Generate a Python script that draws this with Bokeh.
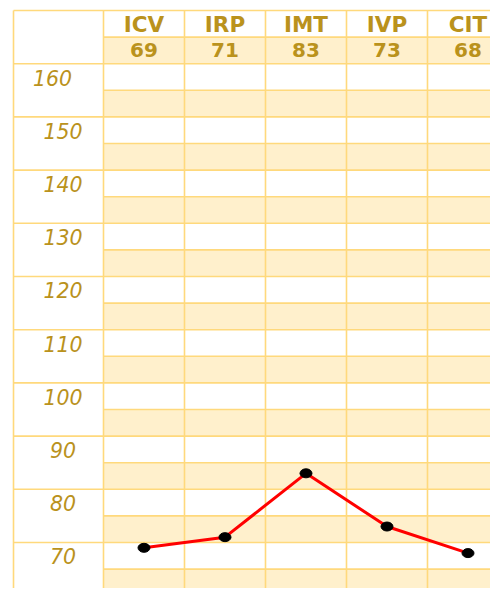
from bokeh.plotting import figure
from bokeh.models import Range1d, ColumnDataSource
from bokeh.core.properties import value
from bokeh.embed import file_html
from bokeh.resources import INLINE

categories = ["ICV", "IRP", "IMT", "IVP", "CIT"]
values = [69, 71, 83, 73, 68]
tick_labels = [160, 150, 140, 130, 120, 110, 100, 90, 80, 70]

GOLD_TEXT = "#BA921C"
GRID = "#FFD97C"
BEIGE = "#FFF0CC"

n = len(categories)
xs = list(range(n))

# layout constants (column units / value units)
left_edge = -1.611
col_left = -0.5
col_right = n - 0.5 + 0.2
y_min, y_max = 61.35, 171.88
head_top = 170
head_mid = 165
body_top = 160
body_bottom = 60

p = figure(width=490, height=588, output_backend="svg", toolbar_location=None,
           x_range=Range1d(-1.7716, 4.2778), y_range=Range1d(y_min, y_max),
           min_border=0, background_fill_color="white", border_fill_color="white")
p.axis.visible = False
p.xgrid.visible = False
p.ygrid.visible = False
p.outline_line_color = None

# beige bands (lower half of every 10-unit band) + header value row
band_tops = [t - 5 for t in tick_labels]
p.quad(left=col_left, right=col_right, top=band_tops, bottom=[t - 10 for t in tick_labels],
       fill_color=BEIGE, line_color=None)
p.quad(left=col_left, right=col_right, top=head_mid, bottom=body_top,
       fill_color=BEIGE, line_color=None)

# horizontal lines
full_lines = [t for t in tick_labels] + [body_bottom, head_top]
p.segment(x0=left_edge, x1=col_right, y0=full_lines, y1=full_lines, line_color=GRID, line_width=1.6)
half_lines = [t - 5 for t in tick_labels] + [head_mid]
p.segment(x0=col_left, x1=col_right, y0=half_lines, y1=half_lines, line_color=GRID, line_width=1.6)

# vertical lines
vx = [left_edge] + [i - 0.5 for i in range(n)]
p.segment(x0=vx, x1=vx, y0=y_min - 1, y1=head_top, line_color=GRID, line_width=1.6)

# header texts
p.text(x=xs, y=[167.4] * n, text=categories, text_align="center", text_baseline="middle",
       text_font=value("DejaVu Sans"), text_font_style="bold", text_font_size="21.5px",
       text_color=GOLD_TEXT)
p.text(x=xs, y=[162.6] * n, text=[str(v) for v in values], text_align="center",
       text_baseline="middle", text_font=value("DejaVu Sans"), text_font_style="bold",
       text_font_size="20px", text_color=GOLD_TEXT)

# y tick labels
label_x = [-1.13 if t == tick_labels[0] else -1.0 for t in tick_labels]
p.text(x=label_x, y=[t - 2.6 for t in tick_labels],
       text=[str(t) for t in tick_labels], text_align="center", text_baseline="middle",
       text_font=value("DejaVu Sans"), text_font_style="italic", text_font_size="20.5px",
       text_color=GOLD_TEXT)

# data line
src = ColumnDataSource(dict(x=xs, y=values))
p.line("x", "y", source=src, line_color="#FF0000", line_width=3)
p.ellipse("x", "y", source=src, width=12, height=9, width_units="screen", height_units="screen",
          fill_color="black", line_color="black")

open("out.html", "w").write(file_html(p, INLINE))
